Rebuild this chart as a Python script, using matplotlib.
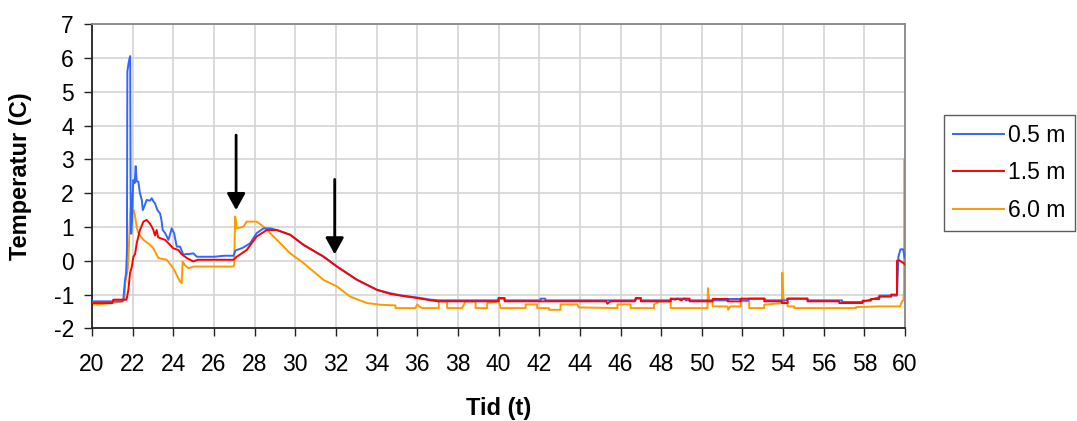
import matplotlib
matplotlib.use('Agg')
import matplotlib.pyplot as plt

plt.rcParams['font.family'] = ['Liberation Sans', 'DejaVu Sans']
plt.rcParams['axes.unicode_minus'] = False

# Series (time in hours, temperature in C)
t_05 = [20, 21.5, 21.55, 21.62, 21.68, 21.72, 21.74, 21.8, 21.85, 21.88, 21.9, 21.93, 21.97,
        22.03, 22.1, 22.15, 22.2, 22.28, 22.36, 22.45, 22.5, 22.6, 22.69, 22.85, 22.94, 23.03,
        23.1, 23.22, 23.35, 23.42, 23.48, 23.6, 23.76, 23.85, 23.92, 24.04, 24.17, 24.33, 24.5,
        24.6, 24.74, 24.99, 25.16, 26.0, 26.5, 26.96, 27.05, 27.12, 27.4, 27.6, 27.78, 28.1,
        28.44, 28.77, 29.1, 29.75, 30.41, 31.4, 32.05, 33.03, 34.02, 34.68, 35.17, 35.65, 36.16,
        36.65, 37.06, 40.0, 40.0, 40.3, 40.3, 42.07, 42.07, 42.3, 42.3, 46.75, 46.75, 47.0,
        47.0, 48.47, 48.47, 49.2, 49.2, 51.3, 51.3, 51.9, 51.9, 52.3, 52.3, 53.1, 53.1, 54.2,
        54.2, 55.2, 55.2, 56.9, 56.9, 57.9, 58.3, 58.73, 58.73, 59.6, 59.67, 59.77, 59.9,
        59.95, 59.97]
T_05 = [-1.2, -1.2, -1.1, -0.6, -0.35, 0.3, 5.6, 5.85, 6.0, 6.06, 2.0, 0.8, 1.2,
        2.39, 2.3, 2.8, 2.35, 2.34, 2.0, 1.8, 1.5, 1.65, 1.8, 1.78, 1.85, 1.75,
        1.7, 1.5, 1.4, 1.2, 0.91, 0.82, 0.62, 0.8, 0.96, 0.82, 0.42, 0.42, 0.17,
        0.2, 0.2, 0.22, 0.12, 0.12, 0.15, 0.15, 0.3, 0.32, 0.38, 0.45, 0.52, 0.82,
        0.96, 0.96, 0.91, 0.77, 0.47, 0.12, -0.17, -0.56, -0.86, -0.96, -1.02, -1.06, -1.1,
        -1.15, -1.17, -1.17, -1.12, -1.12, -1.17, -1.17, -1.12, -1.12, -1.17, -1.17, -1.12, -1.12,
        -1.17, -1.17, -1.12, -1.12, -1.17, -1.17, -1.13, -1.13, -1.17, -1.17, -1.12, -1.12, -1.17,
        -1.17, -1.12, -1.12, -1.17, -1.17, -1.22, -1.22, -1.15, -1.08, -1.03, -1.03, 0.12, 0.34,
        0.34, 0.2, 0.1]

t_15 = [20, 21.0, 21.05, 21.7, 21.79, 21.87, 21.95, 22.04, 22.12, 22.2, 22.36, 22.53, 22.69,
        22.85, 22.95, 23.02, 23.1, 23.18, 23.25, 23.35, 23.6, 23.84, 24.0, 24.25, 24.4, 24.67,
        24.99, 25.2, 26.96, 27.12, 27.61, 28.1, 28.6, 29.1, 29.75, 30.41, 31.4, 32.05, 33.03,
        34.02, 34.68, 35.17, 35.65, 36.16, 36.65, 37.06, 40.0, 40.0, 40.3, 40.3, 45.3, 45.35,
        45.5, 46.7, 46.75, 47.0, 47.0, 48.47, 48.47, 48.7, 48.8, 49.0, 49.1, 49.4, 49.4, 50.53,
        50.53, 51.27, 51.27, 51.92, 51.92, 53.07, 53.07, 53.94, 53.94, 54.22, 54.22, 55.2, 55.2,
        56.76, 56.76, 57.91, 57.91, 58.32, 58.32, 58.73, 58.73, 59.31, 59.31, 59.6, 59.6, 59.69,
        59.93, 59.97]
T_15 = [-1.25, -1.25, -1.15, -1.15, -0.86, -0.37, -0.2, 0.12, 0.2, 0.52, 0.91, 1.16, 1.21,
        1.1, 1.0, 0.91, 0.75, 0.91, 0.7, 0.67, 0.62, 0.47, 0.37, 0.32, 0.2, 0.08,
        -0.02, 0.03, 0.03, 0.12, 0.32, 0.72, 0.91, 0.91, 0.77, 0.47, 0.12, -0.17, -0.56,
        -0.86, -0.98, -1.03, -1.07, -1.12, -1.17, -1.2, -1.2, -1.1, -1.1, -1.2, -1.2, -1.27,
        -1.2, -1.2, -1.1, -1.1, -1.2, -1.2, -1.12, -1.15, -1.12, -1.17, -1.12, -1.12, -1.2, -1.2,
        -1.13, -1.13, -1.2, -1.2, -1.12, -1.12, -1.2, -1.2, -1.25, -1.25, -1.12, -1.12, -1.2,
        -1.2, -1.25, -1.25, -1.18, -1.18, -1.13, -1.13, -1.06, -1.06, -1.0, -1.0, 0.0, 0.02,
        -0.07, -0.1]

t_60 = [20, 20.5, 21.0, 21.5, 21.6, 21.63, 21.75, 21.79, 21.87, 21.95, 22.0, 22.05, 22.12,
        22.2, 22.28, 22.53, 22.8, 23.02, 23.27, 23.68, 24.0, 24.33, 24.41, 24.46, 24.56, 24.74,
        24.99, 26.96, 27.0, 27.04, 27.08, 27.12, 27.45, 27.61, 28.1, 28.44, 29.1, 29.75, 30.41,
        31.4, 32.05, 32.7, 33.53, 34.19, 34.93, 34.93, 35.91, 36.0, 36.1, 36.24, 37.06, 37.06,
        37.47, 37.47, 38.21, 38.37, 38.87, 38.87, 39.44, 39.44, 39.85, 40.0, 40.1, 41.33, 41.33,
        41.9, 41.9, 42.48, 42.48, 43.05, 43.05, 43.88, 43.95, 45.85, 45.85, 46.5, 46.5, 47.65,
        47.65, 47.9, 48.47, 48.47, 50.28, 50.3, 50.36, 50.53, 50.53, 51.27, 51.3, 51.4, 51.92,
        51.92, 52.33, 52.33, 53.07, 53.07, 53.94, 53.96, 53.98, 54.0, 54.05, 54.22, 54.22,
        54.55, 54.55, 57.59, 57.59, 58.7, 59.75, 59.85, 59.92, 59.95, 59.96]
T_60 = [-1.3, -1.28, -1.25, -1.2, -1.15, -0.66, -0.3, 0.03, 1.31, 2.0, 1.4, 1.5, 1.31,
        1.0, 0.82, 0.62, 0.5, 0.37, 0.08, 0.03, -0.22, -0.61, -0.66, -0.02, -0.12, -0.22,
        -0.17, -0.17, -0.1, 1.31, 1.2, 0.96, 1.01, 1.16, 1.16, 1.01, 0.62, 0.22, -0.07,
        -0.57, -0.76, -1.06, -1.25, -1.3, -1.32, -1.4, -1.4, -1.29, -1.35, -1.4, -1.4, -1.2,
        -1.2, -1.4, -1.4, -1.2, -1.2, -1.4, -1.4, -1.25, -1.22, -1.15, -1.4, -1.4, -1.29,
        -1.29, -1.4, -1.4, -1.45, -1.45, -1.29, -1.29, -1.38, -1.4, -1.29, -1.29, -1.4, -1.4,
        -1.29, -1.2, -1.2, -1.4, -1.4, -0.81, -1.2, -1.2, -1.35, -1.35, -1.45, -1.35, -1.35,
        -1.2, -1.2, -1.4, -1.4, -1.3, -1.25, -0.35, -0.7, -1.0, -1.25, -1.25, -1.35,
        -1.35, -1.4, -1.4, -1.37, -1.35, -1.35, -1.2, -1.16, -0.86, 2.99]

labels = ['0.5 m', '1.5 m', '6.0 m']
colors = ['#3366FF', '#FF0000', '#FF9900']

# arrows (tail, tip) in data coordinates
arrows = [((27.09, 3.72), (27.09, 1.5)), ((31.94, 2.41), (31.94, 0.19))]

fig = plt.figure(figsize=(10.77, 4.21), dpi=100)
ax = fig.add_axes([0.0854, 0.22, 0.755, 0.7223])

ax.plot(t_05, T_05, color=colors[0], lw=1.4, label=labels[0], zorder=3)
ax.plot(t_15, T_15, color=colors[1], lw=1.4, label=labels[1], zorder=4)
ax.plot(t_60, T_60, color=colors[2], lw=1.4, label=labels[2], zorder=2)

for tail, tip in arrows:
    ax.annotate('', xy=tip, xytext=tail,
                arrowprops=dict(arrowstyle='-|>,head_width=0.55,head_length=1.0',
                                color='black', lw=2, shrinkA=0, shrinkB=0),
                zorder=5)

ax.set_xlim(20, 60)
ax.set_ylim(-2, 7)
ax.set_xticks(range(20, 61, 2))
ax.set_yticks(range(-2, 8))
ax.grid(True, color='#d4d4d4', lw=1.2)
ax.set_axisbelow(True)

ax.tick_params(axis='both', labelsize=16.5, length=6, width=1, color='#222222')
ax.tick_params(axis='x', pad=12)
ax.tick_params(axis='y', pad=7)

ax.spines['left'].set_color('#222222')
ax.spines['bottom'].set_color('#222222')
ax.spines['top'].set_color('#888888')
ax.spines['right'].set_color('#888888')
for s in ax.spines.values():
    s.set_linewidth(1.3)

ax.set_xlabel('Tid (t)', fontsize=17, fontweight='bold')
ax.set_ylabel('Temperatur (C)', fontsize=17, fontweight='bold')
ax.xaxis.set_label_coords(0.5, -0.225)
ax.yaxis.set_label_coords(-0.074, 0.5)

leg = fig.legend(loc='upper left', bbox_to_anchor=(944 / 1077, 1 - 115 / 421),
                 fontsize=16.5, frameon=True, fancybox=False, borderaxespad=0,
                 handlelength=2.2, handletextpad=0.2, labelspacing=0.62,
                 borderpad=0.4)
leg.get_frame().set_edgecolor('#333333')
leg.get_frame().set_linewidth(1.0)

fig.savefig('out.png', dpi=100)
